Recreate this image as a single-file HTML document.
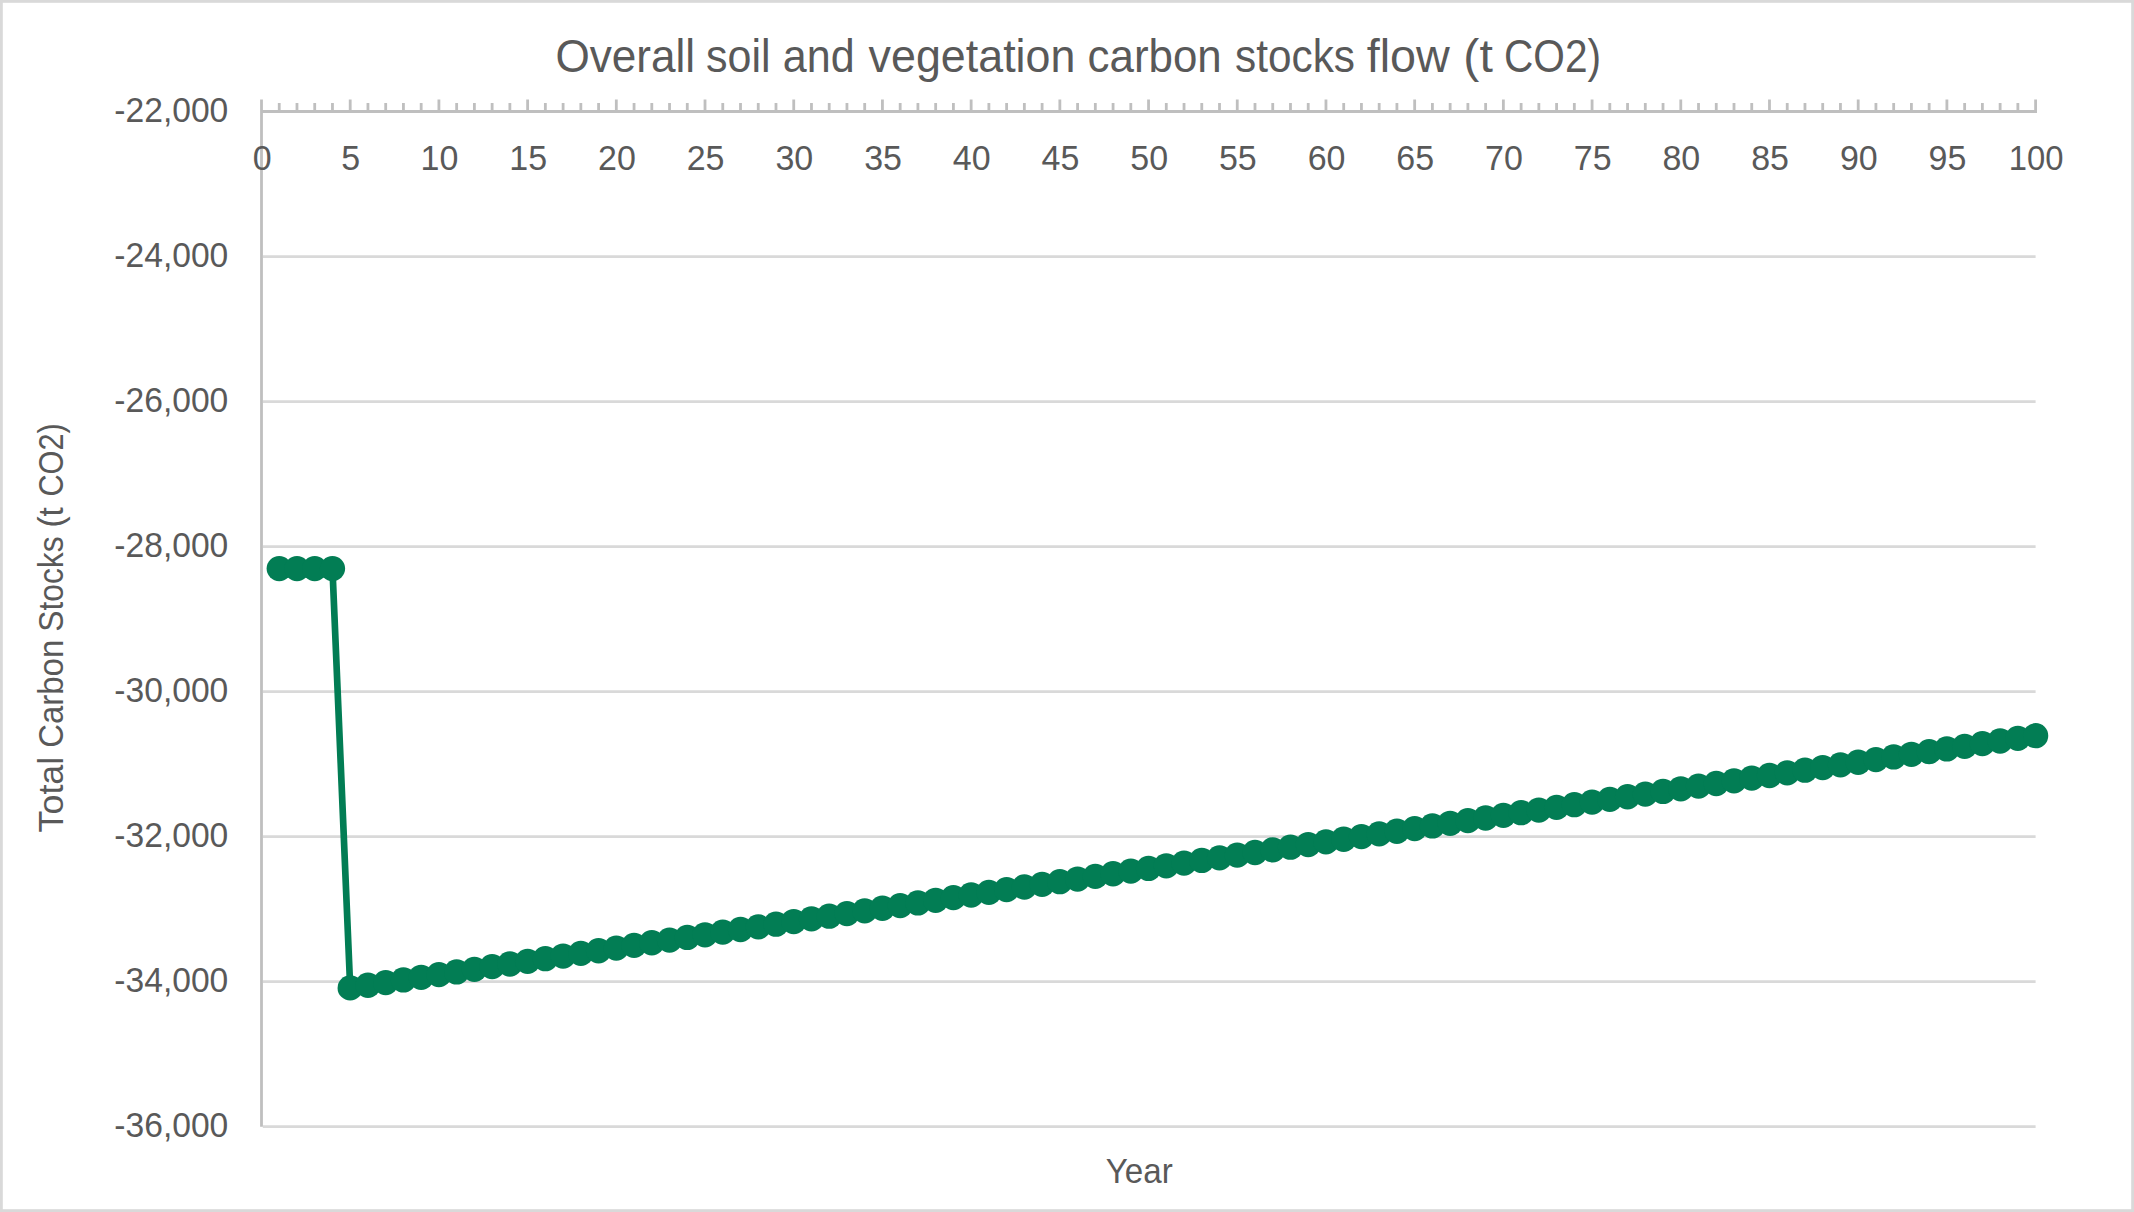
<!DOCTYPE html>
<html lang="en"><head><meta charset="utf-8"><title>Overall soil and vegetation carbon stocks flow (t CO2)</title>
<style>html,body{margin:0;padding:0;background:#fff;overflow:hidden}svg{display:block}text{font-family:"Liberation Sans",sans-serif;fill:#595959;white-space:pre}</style></head><body>
<svg width="2134" height="1212" viewBox="0 0 2134 1212">
<rect x="0" y="0" width="2134" height="1212" fill="#fff"/>
<rect x="1.4" y="1.4" width="2131.2" height="1209.2" fill="none" stroke="#d9d9d9" stroke-width="2.8"/>
<path d="M262.80 256.55H2035.60M262.80 401.55H2035.60M262.80 546.55H2035.60M262.80 691.55H2035.60M262.80 836.55H2035.60M262.80 981.55H2035.60M262.80 1126.55H2035.60" stroke="#d9d9d9" stroke-width="2.67" fill="none"/>
<path d="M261.50 99.50V1126.70M260.10 111.50H2037.00M279.24 103.00V111.50M296.98 103.00V111.50M314.72 103.00V111.50M332.46 103.00V111.50M350.20 99.50V111.50M367.95 103.00V111.50M385.69 103.00V111.50M403.43 103.00V111.50M421.17 103.00V111.50M438.91 99.50V111.50M456.65 103.00V111.50M474.39 103.00V111.50M492.13 103.00V111.50M509.87 103.00V111.50M527.62 99.50V111.50M545.36 103.00V111.50M563.10 103.00V111.50M580.84 103.00V111.50M598.58 103.00V111.50M616.32 99.50V111.50M634.06 103.00V111.50M651.80 103.00V111.50M669.54 103.00V111.50M687.28 103.00V111.50M705.02 99.50V111.50M722.77 103.00V111.50M740.51 103.00V111.50M758.25 103.00V111.50M775.99 103.00V111.50M793.73 99.50V111.50M811.47 103.00V111.50M829.21 103.00V111.50M846.95 103.00V111.50M864.69 103.00V111.50M882.43 99.50V111.50M900.18 103.00V111.50M917.92 103.00V111.50M935.66 103.00V111.50M953.40 103.00V111.50M971.14 99.50V111.50M988.88 103.00V111.50M1006.62 103.00V111.50M1024.36 103.00V111.50M1042.10 103.00V111.50M1059.85 99.50V111.50M1077.59 103.00V111.50M1095.33 103.00V111.50M1113.07 103.00V111.50M1130.81 103.00V111.50M1148.55 99.50V111.50M1166.29 103.00V111.50M1184.03 103.00V111.50M1201.77 103.00V111.50M1219.51 103.00V111.50M1237.26 99.50V111.50M1255.00 103.00V111.50M1272.74 103.00V111.50M1290.48 103.00V111.50M1308.22 103.00V111.50M1325.96 99.50V111.50M1343.70 103.00V111.50M1361.44 103.00V111.50M1379.18 103.00V111.50M1396.92 103.00V111.50M1414.66 99.50V111.50M1432.41 103.00V111.50M1450.15 103.00V111.50M1467.89 103.00V111.50M1485.63 103.00V111.50M1503.37 99.50V111.50M1521.11 103.00V111.50M1538.85 103.00V111.50M1556.59 103.00V111.50M1574.33 103.00V111.50M1592.08 99.50V111.50M1609.82 103.00V111.50M1627.56 103.00V111.50M1645.30 103.00V111.50M1663.04 103.00V111.50M1680.78 99.50V111.50M1698.52 103.00V111.50M1716.26 103.00V111.50M1734.00 103.00V111.50M1751.74 103.00V111.50M1769.48 99.50V111.50M1787.23 103.00V111.50M1804.97 103.00V111.50M1822.71 103.00V111.50M1840.45 103.00V111.50M1858.19 99.50V111.50M1875.93 103.00V111.50M1893.67 103.00V111.50M1911.41 103.00V111.50M1929.15 103.00V111.50M1946.89 99.50V111.50M1964.64 103.00V111.50M1982.38 103.00V111.50M2000.12 103.00V111.50M2017.86 103.00V111.50M2035.60 99.50V111.50" stroke="#bfbfbf" stroke-width="2.8" fill="none"/>
<text id="title" y="71.6" font-size="46"><tspan x="555.39" textLength="139.81" lengthAdjust="spacingAndGlyphs">Overall</tspan> <tspan x="706.01" textLength="64.58" lengthAdjust="spacingAndGlyphs">soil</tspan> <tspan x="782.80" textLength="71.81" lengthAdjust="spacingAndGlyphs">and</tspan> <tspan x="868.60" textLength="206.78" lengthAdjust="spacingAndGlyphs">vegetation</tspan> <tspan x="1087.59" textLength="134.21" lengthAdjust="spacingAndGlyphs">carbon</tspan> <tspan x="1235.01" textLength="119.97" lengthAdjust="spacingAndGlyphs">stocks</tspan> <tspan x="1366.77" textLength="83.07" lengthAdjust="spacingAndGlyphs">flow</tspan> <tspan x="1463.36" textLength="29.48" lengthAdjust="spacingAndGlyphs">(t</tspan> <tspan x="1503.99" textLength="97.03" lengthAdjust="spacingAndGlyphs">CO2)</tspan></text>
<text class="yl" x="228.3" y="122.1" font-size="34.5" text-anchor="end" textLength="114" lengthAdjust="spacingAndGlyphs">-22,000</text>
<text class="yl" x="228.3" y="267.1" font-size="34.5" text-anchor="end" textLength="114" lengthAdjust="spacingAndGlyphs">-24,000</text>
<text class="yl" x="228.3" y="412.1" font-size="34.5" text-anchor="end" textLength="114" lengthAdjust="spacingAndGlyphs">-26,000</text>
<text class="yl" x="228.3" y="557.1" font-size="34.5" text-anchor="end" textLength="114" lengthAdjust="spacingAndGlyphs">-28,000</text>
<text class="yl" x="228.3" y="702.1" font-size="34.5" text-anchor="end" textLength="114" lengthAdjust="spacingAndGlyphs">-30,000</text>
<text class="yl" x="228.3" y="847.1" font-size="34.5" text-anchor="end" textLength="114" lengthAdjust="spacingAndGlyphs">-32,000</text>
<text class="yl" x="228.3" y="992.1" font-size="34.5" text-anchor="end" textLength="114" lengthAdjust="spacingAndGlyphs">-34,000</text>
<text class="yl" x="228.3" y="1137.1" font-size="34.5" text-anchor="end" textLength="114" lengthAdjust="spacingAndGlyphs">-36,000</text>
<text class="xl" x="262.10" y="169.6" font-size="34.5" text-anchor="middle" textLength="18.9" lengthAdjust="spacingAndGlyphs">0</text>
<text class="xl" x="350.81" y="169.6" font-size="34.5" text-anchor="middle" textLength="18.9" lengthAdjust="spacingAndGlyphs">5</text>
<text class="xl" x="439.51" y="169.6" font-size="34.5" text-anchor="middle" textLength="37.8" lengthAdjust="spacingAndGlyphs">10</text>
<text class="xl" x="528.22" y="169.6" font-size="34.5" text-anchor="middle" textLength="37.8" lengthAdjust="spacingAndGlyphs">15</text>
<text class="xl" x="616.92" y="169.6" font-size="34.5" text-anchor="middle" textLength="37.8" lengthAdjust="spacingAndGlyphs">20</text>
<text class="xl" x="705.62" y="169.6" font-size="34.5" text-anchor="middle" textLength="37.8" lengthAdjust="spacingAndGlyphs">25</text>
<text class="xl" x="794.33" y="169.6" font-size="34.5" text-anchor="middle" textLength="37.8" lengthAdjust="spacingAndGlyphs">30</text>
<text class="xl" x="883.03" y="169.6" font-size="34.5" text-anchor="middle" textLength="37.8" lengthAdjust="spacingAndGlyphs">35</text>
<text class="xl" x="971.74" y="169.6" font-size="34.5" text-anchor="middle" textLength="37.8" lengthAdjust="spacingAndGlyphs">40</text>
<text class="xl" x="1060.44" y="169.6" font-size="34.5" text-anchor="middle" textLength="37.8" lengthAdjust="spacingAndGlyphs">45</text>
<text class="xl" x="1149.15" y="169.6" font-size="34.5" text-anchor="middle" textLength="37.8" lengthAdjust="spacingAndGlyphs">50</text>
<text class="xl" x="1237.86" y="169.6" font-size="34.5" text-anchor="middle" textLength="37.8" lengthAdjust="spacingAndGlyphs">55</text>
<text class="xl" x="1326.56" y="169.6" font-size="34.5" text-anchor="middle" textLength="37.8" lengthAdjust="spacingAndGlyphs">60</text>
<text class="xl" x="1415.26" y="169.6" font-size="34.5" text-anchor="middle" textLength="37.8" lengthAdjust="spacingAndGlyphs">65</text>
<text class="xl" x="1503.97" y="169.6" font-size="34.5" text-anchor="middle" textLength="37.8" lengthAdjust="spacingAndGlyphs">70</text>
<text class="xl" x="1592.67" y="169.6" font-size="34.5" text-anchor="middle" textLength="37.8" lengthAdjust="spacingAndGlyphs">75</text>
<text class="xl" x="1681.38" y="169.6" font-size="34.5" text-anchor="middle" textLength="37.8" lengthAdjust="spacingAndGlyphs">80</text>
<text class="xl" x="1770.08" y="169.6" font-size="34.5" text-anchor="middle" textLength="37.8" lengthAdjust="spacingAndGlyphs">85</text>
<text class="xl" x="1858.79" y="169.6" font-size="34.5" text-anchor="middle" textLength="37.8" lengthAdjust="spacingAndGlyphs">90</text>
<text class="xl" x="1947.49" y="169.6" font-size="34.5" text-anchor="middle" textLength="37.8" lengthAdjust="spacingAndGlyphs">95</text>
<text class="xl" x="2036.20" y="169.6" font-size="34.5" text-anchor="middle" textLength="54.7" lengthAdjust="spacingAndGlyphs">100</text>
<text id="xt" x="1139.2" y="1183" font-size="34.5" text-anchor="middle" textLength="67" lengthAdjust="spacingAndGlyphs">Year</text>
<text id="yt" transform="translate(62.6 832.0) rotate(-90)" font-size="34.5"><tspan x="-0.42" textLength="75.62" lengthAdjust="spacingAndGlyphs">Total</tspan> <tspan x="84.21" textLength="107.99" lengthAdjust="spacingAndGlyphs">Carbon</tspan> <tspan x="200.21" textLength="95.39" lengthAdjust="spacingAndGlyphs">Stocks</tspan> <tspan x="304.40" textLength="20.44" lengthAdjust="spacingAndGlyphs">(t</tspan> <tspan x="335.43" textLength="73.33" lengthAdjust="spacingAndGlyphs">CO2)</tspan></text>
<polyline fill="none" stroke="#027d54" stroke-width="6.67" stroke-linejoin="round" stroke-linecap="round" points="279.24,568.60 296.98,568.60 314.72,568.60 332.46,568.60 350.20,987.90 367.95,985.25 385.69,982.59 403.43,979.94 421.17,977.28 438.91,974.63 456.65,971.97 474.39,969.32 492.13,966.66 509.87,964.01 527.62,961.35 545.36,958.70 563.10,956.04 580.84,953.39 598.58,950.73 616.32,948.08 634.06,945.42 651.80,942.77 669.54,940.11 687.28,937.46 705.02,934.81 722.77,932.15 740.51,929.50 758.25,926.84 775.99,924.19 793.73,921.53 811.47,918.88 829.21,916.22 846.95,913.57 864.69,910.91 882.43,908.26 900.18,905.60 917.92,902.95 935.66,900.29 953.40,897.64 971.14,894.98 988.88,892.33 1006.62,889.67 1024.36,887.02 1042.10,884.37 1059.85,881.71 1077.59,879.06 1095.33,876.40 1113.07,873.75 1130.81,871.09 1148.55,868.44 1166.29,865.78 1184.03,863.13 1201.77,860.47 1219.51,857.82 1237.26,855.16 1255.00,852.51 1272.74,849.85 1290.48,847.20 1308.22,844.54 1325.96,841.89 1343.70,839.23 1361.44,836.58 1379.18,833.93 1396.92,831.27 1414.66,828.62 1432.41,825.96 1450.15,823.31 1467.89,820.65 1485.63,818.00 1503.37,815.34 1521.11,812.69 1538.85,810.03 1556.59,807.38 1574.33,804.72 1592.08,802.07 1609.82,799.41 1627.56,796.76 1645.30,794.10 1663.04,791.45 1680.78,788.79 1698.52,786.14 1716.26,783.49 1734.00,780.83 1751.74,778.18 1769.48,775.52 1787.23,772.87 1804.97,770.21 1822.71,767.56 1840.45,764.90 1858.19,762.25 1875.93,759.59 1893.67,756.94 1911.41,754.28 1929.15,751.63 1946.89,748.97 1964.64,746.32 1982.38,743.66 2000.12,741.01 2017.86,738.35 2035.60,735.70"/>
<g fill="#027d54">
<circle cx="279.24" cy="568.60" r="12.65"/>
<circle cx="296.98" cy="568.60" r="12.65"/>
<circle cx="314.72" cy="568.60" r="12.65"/>
<circle cx="332.46" cy="568.60" r="12.65"/>
<circle cx="350.20" cy="987.90" r="12.65"/>
<circle cx="367.95" cy="985.25" r="12.65"/>
<circle cx="385.69" cy="982.59" r="12.65"/>
<circle cx="403.43" cy="979.94" r="12.65"/>
<circle cx="421.17" cy="977.28" r="12.65"/>
<circle cx="438.91" cy="974.63" r="12.65"/>
<circle cx="456.65" cy="971.97" r="12.65"/>
<circle cx="474.39" cy="969.32" r="12.65"/>
<circle cx="492.13" cy="966.66" r="12.65"/>
<circle cx="509.87" cy="964.01" r="12.65"/>
<circle cx="527.62" cy="961.35" r="12.65"/>
<circle cx="545.36" cy="958.70" r="12.65"/>
<circle cx="563.10" cy="956.04" r="12.65"/>
<circle cx="580.84" cy="953.39" r="12.65"/>
<circle cx="598.58" cy="950.73" r="12.65"/>
<circle cx="616.32" cy="948.08" r="12.65"/>
<circle cx="634.06" cy="945.42" r="12.65"/>
<circle cx="651.80" cy="942.77" r="12.65"/>
<circle cx="669.54" cy="940.11" r="12.65"/>
<circle cx="687.28" cy="937.46" r="12.65"/>
<circle cx="705.02" cy="934.81" r="12.65"/>
<circle cx="722.77" cy="932.15" r="12.65"/>
<circle cx="740.51" cy="929.50" r="12.65"/>
<circle cx="758.25" cy="926.84" r="12.65"/>
<circle cx="775.99" cy="924.19" r="12.65"/>
<circle cx="793.73" cy="921.53" r="12.65"/>
<circle cx="811.47" cy="918.88" r="12.65"/>
<circle cx="829.21" cy="916.22" r="12.65"/>
<circle cx="846.95" cy="913.57" r="12.65"/>
<circle cx="864.69" cy="910.91" r="12.65"/>
<circle cx="882.43" cy="908.26" r="12.65"/>
<circle cx="900.18" cy="905.60" r="12.65"/>
<circle cx="917.92" cy="902.95" r="12.65"/>
<circle cx="935.66" cy="900.29" r="12.65"/>
<circle cx="953.40" cy="897.64" r="12.65"/>
<circle cx="971.14" cy="894.98" r="12.65"/>
<circle cx="988.88" cy="892.33" r="12.65"/>
<circle cx="1006.62" cy="889.67" r="12.65"/>
<circle cx="1024.36" cy="887.02" r="12.65"/>
<circle cx="1042.10" cy="884.37" r="12.65"/>
<circle cx="1059.85" cy="881.71" r="12.65"/>
<circle cx="1077.59" cy="879.06" r="12.65"/>
<circle cx="1095.33" cy="876.40" r="12.65"/>
<circle cx="1113.07" cy="873.75" r="12.65"/>
<circle cx="1130.81" cy="871.09" r="12.65"/>
<circle cx="1148.55" cy="868.44" r="12.65"/>
<circle cx="1166.29" cy="865.78" r="12.65"/>
<circle cx="1184.03" cy="863.13" r="12.65"/>
<circle cx="1201.77" cy="860.47" r="12.65"/>
<circle cx="1219.51" cy="857.82" r="12.65"/>
<circle cx="1237.26" cy="855.16" r="12.65"/>
<circle cx="1255.00" cy="852.51" r="12.65"/>
<circle cx="1272.74" cy="849.85" r="12.65"/>
<circle cx="1290.48" cy="847.20" r="12.65"/>
<circle cx="1308.22" cy="844.54" r="12.65"/>
<circle cx="1325.96" cy="841.89" r="12.65"/>
<circle cx="1343.70" cy="839.23" r="12.65"/>
<circle cx="1361.44" cy="836.58" r="12.65"/>
<circle cx="1379.18" cy="833.93" r="12.65"/>
<circle cx="1396.92" cy="831.27" r="12.65"/>
<circle cx="1414.66" cy="828.62" r="12.65"/>
<circle cx="1432.41" cy="825.96" r="12.65"/>
<circle cx="1450.15" cy="823.31" r="12.65"/>
<circle cx="1467.89" cy="820.65" r="12.65"/>
<circle cx="1485.63" cy="818.00" r="12.65"/>
<circle cx="1503.37" cy="815.34" r="12.65"/>
<circle cx="1521.11" cy="812.69" r="12.65"/>
<circle cx="1538.85" cy="810.03" r="12.65"/>
<circle cx="1556.59" cy="807.38" r="12.65"/>
<circle cx="1574.33" cy="804.72" r="12.65"/>
<circle cx="1592.08" cy="802.07" r="12.65"/>
<circle cx="1609.82" cy="799.41" r="12.65"/>
<circle cx="1627.56" cy="796.76" r="12.65"/>
<circle cx="1645.30" cy="794.10" r="12.65"/>
<circle cx="1663.04" cy="791.45" r="12.65"/>
<circle cx="1680.78" cy="788.79" r="12.65"/>
<circle cx="1698.52" cy="786.14" r="12.65"/>
<circle cx="1716.26" cy="783.49" r="12.65"/>
<circle cx="1734.00" cy="780.83" r="12.65"/>
<circle cx="1751.74" cy="778.18" r="12.65"/>
<circle cx="1769.48" cy="775.52" r="12.65"/>
<circle cx="1787.23" cy="772.87" r="12.65"/>
<circle cx="1804.97" cy="770.21" r="12.65"/>
<circle cx="1822.71" cy="767.56" r="12.65"/>
<circle cx="1840.45" cy="764.90" r="12.65"/>
<circle cx="1858.19" cy="762.25" r="12.65"/>
<circle cx="1875.93" cy="759.59" r="12.65"/>
<circle cx="1893.67" cy="756.94" r="12.65"/>
<circle cx="1911.41" cy="754.28" r="12.65"/>
<circle cx="1929.15" cy="751.63" r="12.65"/>
<circle cx="1946.89" cy="748.97" r="12.65"/>
<circle cx="1964.64" cy="746.32" r="12.65"/>
<circle cx="1982.38" cy="743.66" r="12.65"/>
<circle cx="2000.12" cy="741.01" r="12.65"/>
<circle cx="2017.86" cy="738.35" r="12.65"/>
<circle cx="2035.60" cy="735.70" r="12.65"/>
</g>
</svg></body></html>
